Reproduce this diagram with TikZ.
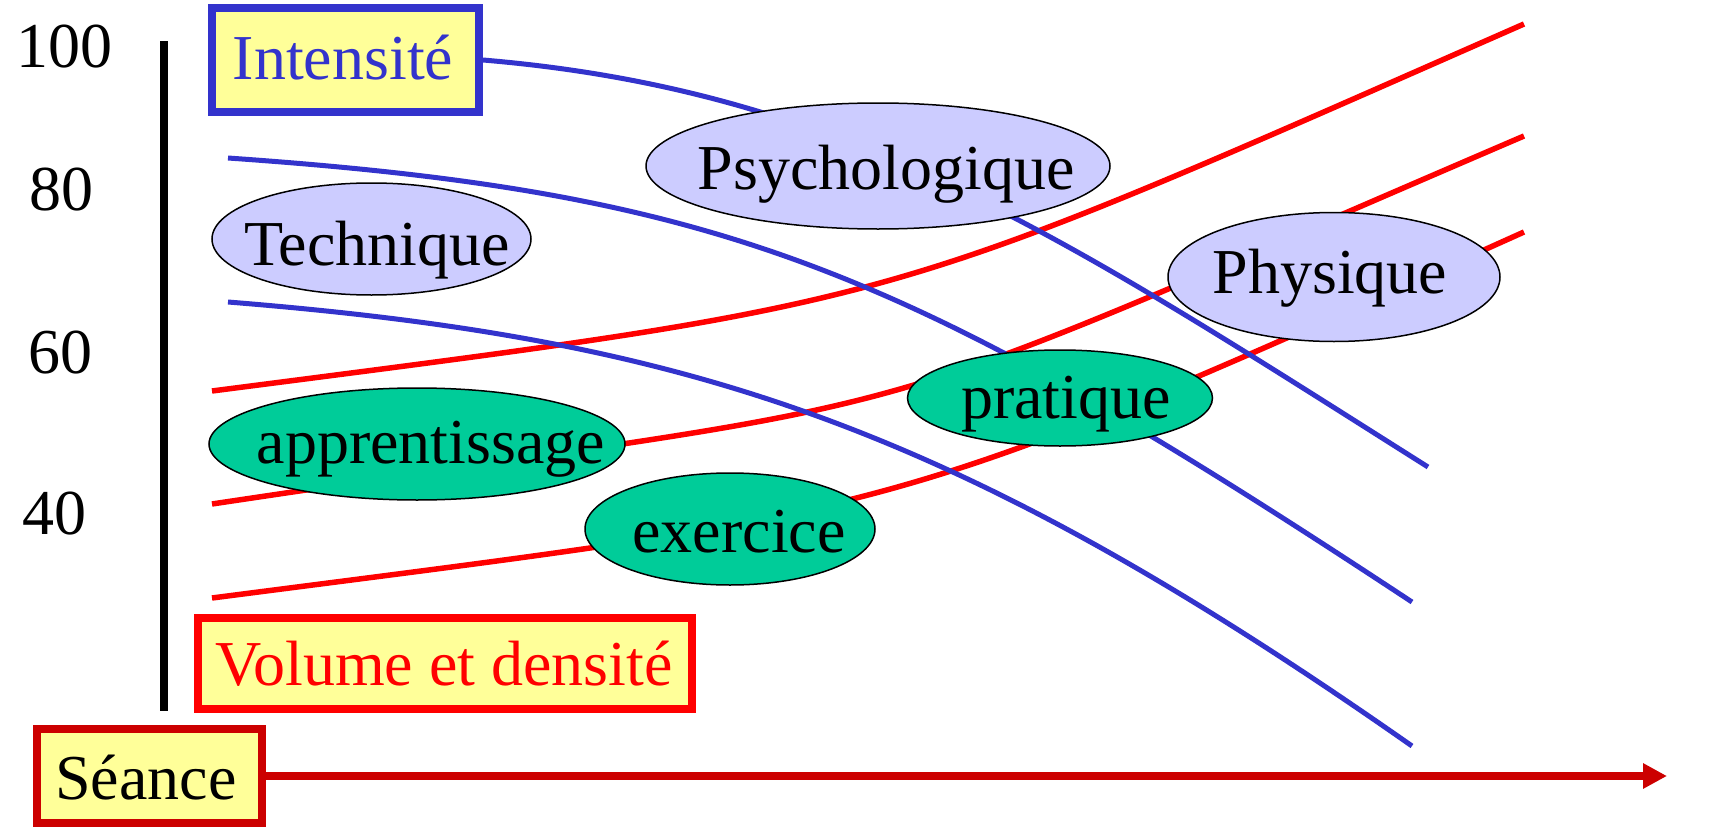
\documentclass[tikz,border=0pt]{standalone}
\usepackage{fontspec}
\setmainfont{Liberation Serif}
\usetikzlibrary{arrows.meta,shapes.geometric}
\definecolor{cblue}{HTML}{3333CC}
\definecolor{cred}{HTML}{FF0000}
\definecolor{cdred}{HTML}{CC0000}
\definecolor{cyel}{HTML}{FFFF99}
\definecolor{clav}{HTML}{CCCCFF}
\definecolor{cgreen}{HTML}{00CC99}
\newcommand{\placetxt}[3]{\makebox[0pt]{\hspace{#1}\raisebox{#2}[0pt][0pt]{#3}}}
\begin{document}
\begin{tikzpicture}[x=0.5pt,y=-0.5pt,
  every node/.style={font=\fontsize{32pt}{38pt}\selectfont, inner sep=0pt},
  oval/.style={ellipse, draw=black, line width=0.75pt, outer sep=0pt},
  tech/.style={oval, fill=clav},
  prac/.style={oval, fill=cgreen},
  tagbox/.style={rectangle, line width=4pt, fill=cyel},
  num/.style={anchor=base},
  bcurve/.style={cblue, line width=2.5pt},
  rcurve/.style={cred, line width=2.75pt},
  axisline/.style={black, line width=4pt},
  timearrow/.style={cdred, line width=4pt, -{Triangle[length=12pt,width=12pt]}}]
\useasboundingbox (0,0) rectangle (1710,830);

% labels of the scale
\node[num] (n100) at (65,68) {100};
\node[num] (n80) at (62,210) {80};
\node[num] (n60) at (60,373) {60};
\node[num] (n40) at (55,534) {40};

% vertical axis
\coordinate (axtop) at (164,41);
\coordinate (axbot) at (164,711);
\draw[axisline] (axtop) -- (axbot);

% boxes
\node[tagbox, draw=cblue, text=cblue, minimum width=133.5pt, minimum height=52pt] (intens) at (345.5,60) {\placetxt{-2.5pt}{-9.5pt}{Intensité}};
\node[tagbox, draw=cred, text=cred, minimum width=247pt, minimum height=45.5pt] (volume) at (445,663.5) {\placetxt{-1pt}{-11pt}{Volume et densité}};

% red curves
\coordinate (r1a) at (212,391); \coordinate (r1b) at (1524,24);
\coordinate (r2a) at (212,504); \coordinate (r2b) at (1524,136);
\coordinate (r3a) at (212,598); \coordinate (r3b) at (1524,232);
\draw[rcurve] (r1a) .. controls (916,300) and (871,311) .. (r1b);
\draw[rcurve] (r2a) .. controls (984,388) and (802,446) .. (r2b);
\draw[rcurve] (r3a) .. controls (907,508) and (879,522) .. (r3b);

% blue curves
\coordinate (b1b) at (1428,467);
\coordinate (b2a) at (228,158); \coordinate (b2b) at (1412,602);
\coordinate (b3a) at (228,302); \coordinate (b3b) at (1412,746);
\draw[bcurve] (intens.east) .. controls (849,91) and (1062,236) .. (b1b);
\draw[bcurve] (b2a) .. controls (730,193) and (910,271) .. (b2b);
\draw[bcurve] (b3a) .. controls (688,339) and (952,424) .. (b3b);

% ovals
\node[tech, minimum width=159.5pt, minimum height=56pt] (technique) at (371.5,239) {\placetxt{5.5pt}{-13pt}{Technique}};
\node[tech, minimum width=232pt, minimum height=63pt] (psycho) at (878,166) {\placetxt{8pt}{-11.5pt}{Psychologique}};
\node[tech, minimum width=166pt, minimum height=64.5pt] (physique) at (1334,277) {\placetxt{-4pt}{-8pt}{Physique}};
\node[prac, minimum width=152.5pt, minimum height=48pt] (pratique) at (1060,398) {\placetxt{6pt}{-10pt}{pratique}};
\node[prac, minimum width=208pt, minimum height=56pt] (apprent) at (417,444) {\placetxt{14pt}{-9.5pt}{apprentissage}};
\node[prac, minimum width=145pt, minimum height=56pt] (exercice) at (730,529) {\placetxt{9pt}{-11.5pt}{exercice}};

% time axis
\node[tagbox, draw=cdred, text=black, minimum width=112.5pt, minimum height=47pt] (seance) at (149.5,776) {\placetxt{-3.5pt}{-11.5pt}{Séance}};
\coordinate (tend) at (1667,776);
\draw[timearrow] (seance) -- (tend);
\end{tikzpicture}
\end{document}
